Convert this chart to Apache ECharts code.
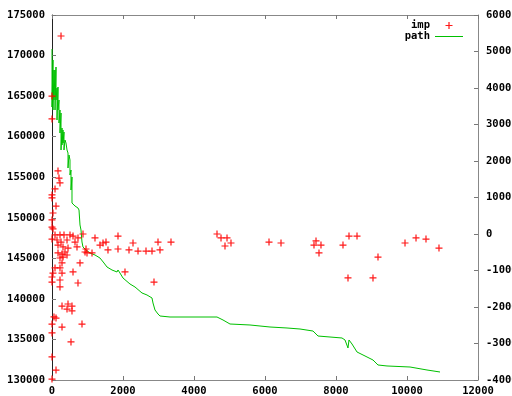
<!DOCTYPE html>
<html>
<head>
<meta charset="utf-8">
<script src="https://cdn.jsdelivr.net/npm/echarts@6/dist/echarts.min.js"></script>
<style>
  html, body { margin: 0; padding: 0; background: #fff; }
  #chart { width: 512px; height: 396px; }
</style>
</head>
<body>
<div id="chart"></div>
<script>
// Improvement points (x, cost on the left axis)
var impX = [254, 0, 0, 169, 197, 225, 85, 0, 0, 113, 28, 0, 0, 28,
  85, 225, 338, 507, 592, 732, 873, 0, 141, 254, 423, 648, 169, 310, 451, 704,
  169, 282, 366, 423, 310, 225, 930, 1211, 1352, 1437, 1127, 986, 789, 282,
  85, 225, 28, 0, 282, 592, 0, 225, 732, 225, 282, 451, 563, 423, 563, 56,
  113, 0, 282, 845, 0, 535, 0, 113, 0,
  1859, 1521, 2282, 2986, 3352, 1577, 1859, 2169, 2423, 2648, 2817, 3042,
  2056, 2873, 958,
  4648, 4761, 4930, 4873, 5042, 6113, 6451, 7380, 7437, 7577, 7521, 8197,
  8338, 8366, 8592, 9042, 9183, 9944, 10254, 10535, 10901];
var impY = [172410, 165010, 162180, 155770, 154900, 154290, 153550, 152810, 152440, 151450, 150590, 149730, 148860, 148620,
  147880, 147880, 147880, 147880, 147750, 147510, 148000, 147380, 147260, 147010, 147260, 147010, 146640, 146400, 146270, 146400,
  145660, 145530, 145780, 145410, 145160, 145040, 145780, 147510, 146640, 146890, 145660, 145660, 144430, 144430,
  143810, 143810, 143190, 142700, 143190, 143320, 142080, 142330, 141960, 141470, 139120, 139370, 139120, 138750, 138510, 137770,
  137640, 136900, 136530, 136900, 135800, 134690, 132840, 131230, 130120,
  147750, 147010, 146890, 147010, 147010, 146030, 146150, 146030, 145900, 145900, 145900, 146030,
  143320, 142080, 146150,
  148000, 147510, 147510, 146520, 146890, 147010, 146890, 146640, 147140, 146640, 145660, 146640,
  142580, 147750, 147750, 142580, 145160, 146890, 147510, 147380, 146270];

// Search path (x, value on the right axis)
var pathX = [0, 0, 28, 28, 56, 56, 85, 85, 113, 113, 141, 141, 169, 169, 197, 197,
  225, 225, 254, 254, 282, 282, 310, 310, 338, 338, 366, 394, 423, 451, 451, 479,
  507, 507, 535, 535, 563, 563, 592, 648, 732, 761, 789, 817, 845, 873, 958, 1070,
  1211, 1352, 1465, 1549, 1690, 1831, 1859, 1915, 2000, 2056, 2197, 2338, 2535, 2676,
  2817, 2845, 2901, 2986, 3042, 3324, 4648, 4817, 5014, 5577, 6141, 6620, 6986, 7352,
  7437, 7493, 7549, 7831, 8169, 8254, 8338, 8366, 8451, 8592, 8817, 9042, 9183, 9437,
  10085, 10563, 10930];
var pathY = [5068, 3479, 4767, 3397, 4493, 3671, 4493, 3397, 4575, 3671, 4000, 3123, 4027, 3397, 3671, 3041,
  3397, 2767, 3315, 2301, 2904, 2438, 2849, 2493, 2794, 2301, 2575, 2493, 2301, 2219, 1808, 2164,
  2027, 1616, 1753, 1205, 1562, 849, 849, 767, 712, 657, 247, 110, -219, -356, -438, -521,
  -575, -658, -795, -904, -986, -1041, -986, -1069, -1206, -1260, -1370, -1452, -1616, -1671,
  -1753, -1890, -2082, -2192, -2247, -2274, -2274, -2356, -2466, -2493, -2548, -2575, -2603, -2658,
  -2740, -2795, -2795, -2822, -2849, -2904, -3123, -2904, -3014, -3233, -3342, -3452, -3589, -3616,
  -3644, -3726, -3781];

var seriesNames = ['imp', 'path'];

var FONT = 'DejaVu Sans Mono';
// plus-shaped marker
var PLUS = 'path://M3.3,0H4.7V3.3H8V4.7H4.7V8H3.3V4.7H0V3.3H3.3Z';
var LINE_ICON = 'path://M0,0H28V1H0Z';

function pairs(xs, ys) {
  return xs.map(function (x, i) { return [x, ys[i]]; });
}

function plain(v) { return String(v); }

var labelStyle = { color: '#000', fontFamily: FONT, fontWeight: 'bold', fontSize: 10.5, formatter: plain };

var chart = echarts.init(document.getElementById('chart'), null, { renderer: 'canvas' });
chart.setOption({
  animation: false,
  backgroundColor: '#fff',
  grid: { left: 52, right: 34, top: 15, bottom: 16, containLabel: false, outerBoundsMode: 'none' },
  legend: {
    orient: 'vertical',
    right: 44,
    top: 15,
    align: 'right',
    itemGap: 0,
    itemWidth: 28,
    itemHeight: 7,
    textStyle: { color: '#000', fontFamily: FONT, fontWeight: 'bold', fontSize: 10.5, lineHeight: 11 },
    data: [
      { name: seriesNames[0], icon: PLUS, itemStyle: { color: '#ff0000' } },
      { name: seriesNames[1], icon: LINE_ICON, itemStyle: { color: '#00c000' } }
    ]
  },
  xAxis: [
    {
      type: 'value', position: 'bottom', min: 0, max: 12000, interval: 2000,
      axisLine: { show: true, onZero: false, lineStyle: { color: '#888', width: 1 } },
      axisTick: { show: true, inside: true, length: 4, lineStyle: { color: '#777' } },
      axisLabel: Object.assign({ margin: 6 }, labelStyle),
      splitLine: { show: false }
    },
    {
      type: 'value', position: 'top', min: 0, max: 12000, interval: 2000,
      axisLine: { show: true, onZero: false, lineStyle: { color: '#888', width: 1 } },
      axisTick: { show: true, inside: true, length: 4, lineStyle: { color: '#777' } },
      axisLabel: { show: false },
      splitLine: { show: false }
    }
  ],
  yAxis: [
    {
      type: 'value', position: 'left', min: 130000, max: 175000, interval: 5000,
      axisLine: { show: true, onZero: false, lineStyle: { color: '#222', width: 1 } },
      axisTick: { show: true, inside: true, length: 4, lineStyle: { color: '#777' } },
      axisLabel: Object.assign({ margin: 7 }, labelStyle),
      splitLine: { show: false }
    },
    {
      type: 'value', position: 'right', min: -4000, max: 6000, interval: 1000,
      axisLine: { show: true, onZero: false, lineStyle: { color: '#888', width: 1 } },
      axisTick: { show: true, inside: true, length: 4, lineStyle: { color: '#777' } },
      axisLabel: Object.assign({ margin: 8, align: 'left' }, labelStyle),
      splitLine: { show: false }
    }
  ],
  series: [
    {
      name: seriesNames[0],
      type: 'scatter',
      xAxisIndex: 0,
      yAxisIndex: 0,
      symbol: PLUS,
      symbolSize: 7,
      itemStyle: { color: '#ff0000', opacity: 0.9 },
      data: pairs(impX, impY),
      z: 3
    },
    {
      name: seriesNames[1],
      type: 'line',
      xAxisIndex: 0,
      yAxisIndex: 1,
      showSymbol: false,
      symbol: 'none',
      lineStyle: { color: '#00c000', width: 1 },
      itemStyle: { color: '#00c000' },
      data: pairs(pathX, pathY),
      z: 2
    }
  ]
});
</script>
</body>
</html>
